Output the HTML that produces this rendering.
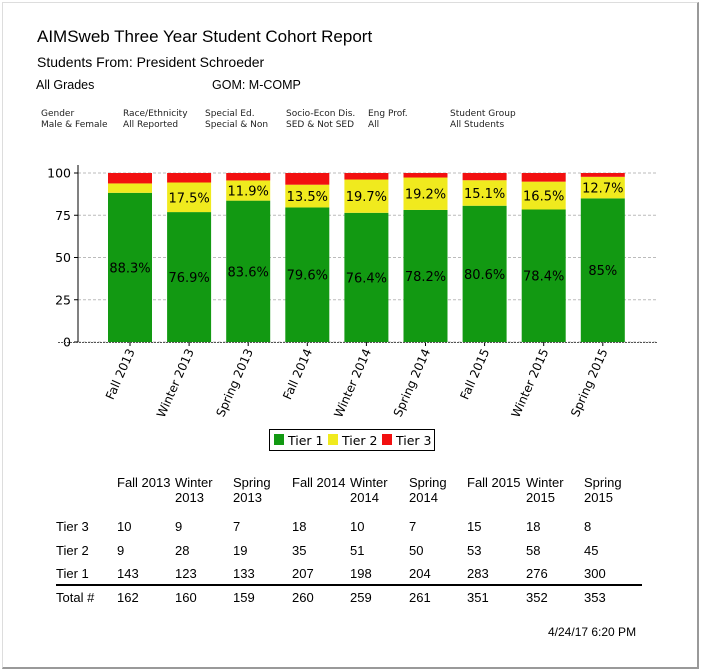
<!DOCTYPE html>
<html><head><meta charset="utf-8">
<style>
body{margin:0;background:#fff;width:701px;height:671px;overflow:hidden;position:relative;font-family:"Liberation Sans",Arial,sans-serif;}
.frame{position:absolute;left:2px;top:2px;width:694px;height:664px;border:1px solid #ddd;border-right:2px solid #999;border-bottom:2px solid #999;}
.t{position:absolute;white-space:nowrap;color:#000;}
.f{font-family:"DejaVu Sans",sans-serif;font-size:9px;line-height:11px;color:#222;}
table{position:absolute;left:56px;top:475px;border-collapse:collapse;font-size:13px;}
td{padding:0;vertical-align:top;}
</style></head><body>
<div class="frame"></div>
<div class="t" style="left:37px;top:27px;font-size:17px">AIMSweb Three Year Student Cohort Report</div>
<div class="t" style="left:37px;top:54px;font-size:14px">Students From: President Schroeder</div>
<div class="t" style="left:36px;top:78px;font-size:12.5px">All Grades</div>
<div class="t" style="left:212px;top:78px;font-size:12.5px">GOM: M-COMP</div>
<div class="t f" style="left:41px;top:109px">Gender<br>Male &amp; Female</div>
<div class="t f" style="left:123px;top:109px">Race/Ethnicity<br>All Reported</div>
<div class="t f" style="left:205px;top:109px">Special Ed.<br>Special &amp; Non</div>
<div class="t f" style="left:286px;top:109px">Socio-Econ Dis.<br>SED &amp; Not SED</div>
<div class="t f" style="left:368px;top:109px">Eng Prof.<br>All</div>
<div class="t f" style="left:450px;top:109px">Student Group<br>All Students</div>

<svg id="chart" width="701" height="460" style="position:absolute;left:0;top:0" font-family="DejaVu Sans, sans-serif"></svg>

<table>
<tr style="height:44px"><td style="width:61px"></td>
<td style="width:58px">Fall 2013</td><td style="width:58px">Winter<br>2013</td><td style="width:59px">Spring<br>2013</td><td style="width:58px">Fall 2014</td><td style="width:59px">Winter<br>2014</td><td style="width:58px">Spring<br>2014</td><td style="width:59px">Fall 2015</td><td style="width:58px">Winter<br>2015</td><td style="width:58px">Spring<br>2015</td></tr>
<tr style="height:24px"><td>Tier 3</td><td>10</td><td>9</td><td>7</td><td>18</td><td>10</td><td>7</td><td>15</td><td>18</td><td>8</td></tr>
<tr style="height:23px"><td>Tier 2</td><td>9</td><td>28</td><td>19</td><td>35</td><td>51</td><td>50</td><td>53</td><td>58</td><td>45</td></tr>
<tr style="height:19px"><td>Tier 1</td><td>143</td><td>123</td><td>133</td><td>207</td><td>198</td><td>204</td><td>283</td><td>276</td><td>300</td></tr>
<tr style="height:24px;border-top:2px solid #000"><td style="padding-top:4px">Total #</td><td style="padding-top:4px">162</td><td style="padding-top:4px">160</td><td style="padding-top:4px">159</td><td style="padding-top:4px">260</td><td style="padding-top:4px">259</td><td style="padding-top:4px">261</td><td style="padding-top:4px">351</td><td style="padding-top:4px">352</td><td style="padding-top:4px">353</td></tr>
</table>
<div class="t" style="left:548px;top:625px;font-size:12px">4/24/17 6:20 PM</div>

<script>
const categories=["Fall 2013","Winter 2013","Spring 2013","Fall 2014","Winter 2014","Spring 2014","Fall 2015","Winter 2015","Spring 2015"];
const tier1=[143,123,133,207,198,204,283,276,300];
const tier2=[9,28,19,35,51,50,53,58,45];
const tier3=[10,9,7,18,10,7,15,18,8];
const yTicks=[0,25,50,75,100];
const tier1Labels=["88.3%","76.9%","83.6%","79.6%","76.4%","78.2%","80.6%","78.4%","85%"];
const tier2Labels=["","17.5%","11.9%","13.5%","19.7%","19.2%","15.1%","16.5%","12.7%"];

const svg=document.getElementById('chart');const NS='http://www.w3.org/2000/svg';
function mk(tag,attrs,parent){const e=document.createElementNS(NS,tag);for(const k in attrs)e.setAttribute(k,attrs[k]);(parent||svg).appendChild(e);return e;}
const x0=78,x1=658,yB=342,yT=173;
function yS(v){return yB-(v/100)*(yB-yT);}
function xC(i){return 130+i*59.1;}
const bw=44;
yTicks.forEach(t=>{
 const g=mk('line',{x1:x0,x2:x1,y1:yS(t),y2:yS(t),stroke:'#bbb','stroke-dasharray':'3,2','stroke-width':1});
 
 const tk=mk('line',{x1:x0-4,x2:x0,y1:yS(t),y2:yS(t),stroke:'#000'});
 
 const l=mk('text',{x:x0-7,y:yS(t)+4.5,'text-anchor':'end','font-size':12.5,fill:'#000'});l.textContent=t;
 
});
categories.forEach((c,i)=>{
 const tot=tier1[i]+tier2[i]+tier3[i];
 const p1=tier1[i]/tot*100,p2=tier2[i]/tot*100,p3=tier3[i]/tot*100;
 const cx=xC(i),xl=cx-bw/2;
 const segs=[[0,p1,'#129912','bar-tier1'],[p1,p1+p2,'#f0ea1e','bar-tier2'],[p1+p2,p1+p2+p3,'#f21010','bar-tier3']];
 segs.forEach(s=>{const r=mk('rect',{x:xl,y:yS(s[1]),width:bw,height:yS(s[0])-yS(s[1]),fill:s[2]});
  });
 const a=mk('text',{x:cx,y:yS(p1/2)+5,'text-anchor':'middle','font-size':13,fill:'#000'});a.textContent=tier1Labels[i];
 
 if(tier2Labels[i]){const b=mk('text',{x:cx,y:yS(p1+p2/2)+5,'text-anchor':'middle','font-size':13,fill:'#000'});b.textContent=tier2Labels[i];
  }
 const tk=mk('line',{x1:cx,x2:cx,y1:yB,y2:yB+4,stroke:'#000'});
 
 const lb=mk('text',{transform:`translate(${cx+5},${yB+9}) rotate(-66)`,'text-anchor':'end','font-size':12,fill:'#000'});lb.textContent=c;
 
});
const ax=mk('line',{x1:x0,x2:x0,y1:165,y2:yB,stroke:'#000'});
const bx=mk('line',{x1:x0-20,x2:x1,y1:yB+0.5,y2:yB+0.5,stroke:'#555','stroke-dasharray':'2,1'});
const lg=mk('rect',{x:269.5,y:429.5,width:165,height:21,fill:'#fff',stroke:'#000','stroke-width':1});

[['Tier 1','#129912',274],['Tier 2','#f0ea1e',328],['Tier 3','#f21010',382]].forEach(e=>{
 const s=mk('rect',{x:e[2],y:434,width:10,height:11,fill:e[1]});
 const t=mk('text',{x:e[2]+14,y:445,'font-size':12.5,fill:'#000'});t.textContent=e[0];
 
});
</script>
</body></html>
